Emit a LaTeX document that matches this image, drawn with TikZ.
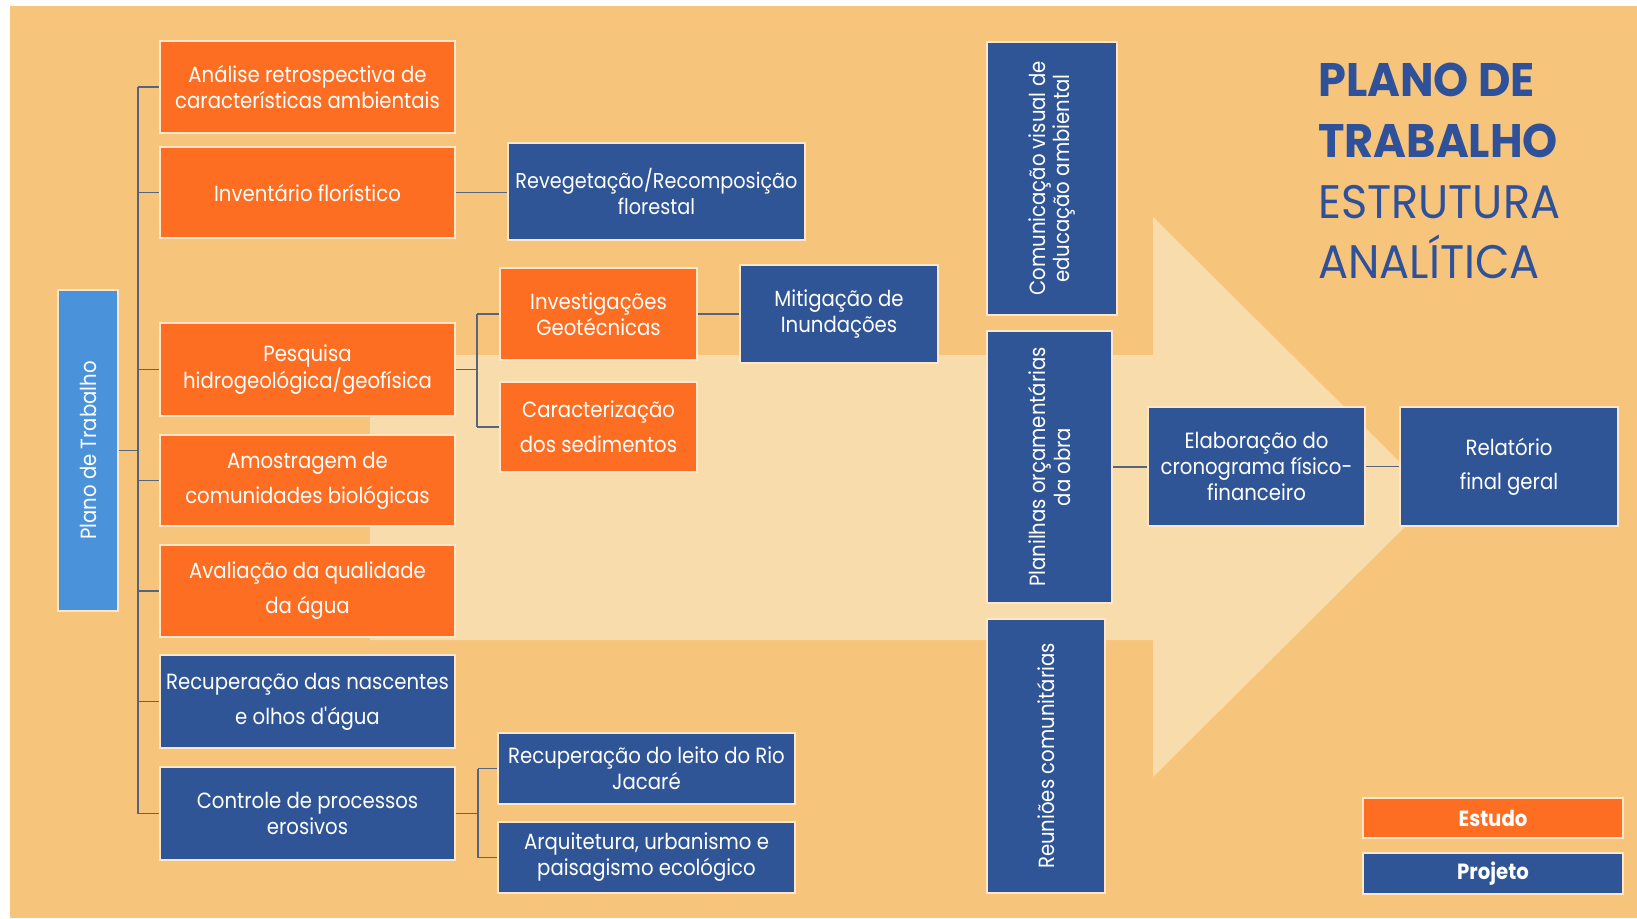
\documentclass[tikz,border=0pt]{standalone}
\usepackage{fontspec}
\setmainfont{Poppins}
\newfontfamily\boxfont{Poppins}[FakeStretch=0.895]
\newfontfamily\titlefont{Poppins}[FakeStretch=0.95]
\definecolor{bgc}{HTML}{F6C47A}
\definecolor{lightc}{HTML}{F8DCAC}
\definecolor{orng}{HTML}{FD6E22}
\definecolor{dblue}{HTML}{2F5597}
\definecolor{lblue}{HTML}{4A92DA}
\definecolor{connc}{HTML}{56657C}
\definecolor{tblue}{HTML}{2F519A}
\definecolor{boxline}{HTML}{FDE6CA}
\tikzset{
  bx/.style={rectangle, inner sep=0pt, align=center, text=white,
    font={\boxfont\fontsize{22}{26}\selectfont}, draw=boxline, line width=1.3pt},
  ob/.style={bx, fill=orng},
  bb/.style={bx, fill=dblue},
  conn/.style={draw=connc, line width=1.8pt},
}
\begin{document}
\begin{tikzpicture}[x=1pt,y=-1pt]
\useasboundingbox (0,0) rectangle (1637,918);
\fill[white] (0,0) rectangle (1637,918);
\fill[bgc] (10,6) rectangle (1637,918);
% big light arrow
\fill[lightc] (370,355) -- (1153,355) -- (1153,217) -- (1435,497) -- (1153,777) -- (1153,640) -- (370,640) -- cycle;

% connectors
\coordinate (tk) at (138,0);
\coordinate (bp) at (477,0);
\coordinate (bc) at (478,0);

% root
\node[bx, fill=lblue, rotate=90, minimum width=321pt, minimum height=60pt] (plano) at (88,450.5) {Plano de Trabalho};

% first level
\node[ob, minimum width=295pt, minimum height=92pt] (A1) at (307.5,87) {Análise retrospectiva de\\características ambientais};
\node[ob, minimum width=295pt, minimum height=91pt] (A2) at (307.5,192.5) {Inventário florístico};
\node[ob, minimum width=295pt, minimum height=93pt] (A3) at (307.5,369.5) {Pesquisa\\hidrogeológica/geofísica};
\node[ob, minimum width=295pt, minimum height=91pt] (A4) at (307.5,480.5) {Amostragem de\\[9pt]comunidades biológicas};
\node[ob, minimum width=295pt, minimum height=92pt] (A5) at (307.5,591) {Avaliação da qualidade\\[9pt]da água};
\node[bb, minimum width=295pt, minimum height=93pt] (A6) at (307.5,701.5) {Recuperação das nascentes\\[9pt]e olhos d'água};
\node[bb, minimum width=295pt, minimum height=93pt] (A7) at (307.5,813.5) {Controle de processos\\erosivos};

% second level
\node[bb, minimum width=297pt, minimum height=97pt, font={\boxfont\fontsize{21.5}{26}\selectfont}] (reveg) at (656.5,191.5) {Revegetação/Recomposição\\florestal};
\node[ob, minimum width=197pt, minimum height=92pt] (inv) at (598.5,314) {Investigações\\Geotécnicas};
\node[ob, minimum width=197pt, minimum height=90pt] (car) at (598.5,427) {Caracterização\\[9pt]dos sedimentos};
\node[bb, minimum width=198pt, minimum height=98pt] (mit) at (839,314) {Mitigação de\\Inundações};
\node[bb, minimum width=297pt, minimum height=71pt] (leito) at (646.5,768.5) {Recuperação do leito do Rio\\Jacaré};
\node[bb, minimum width=297pt, minimum height=71pt] (arq) at (646.5,857.5) {Arquitetura, urbanismo e\\paisagismo ecológico};

% vertical column
\node[bb, rotate=90, minimum width=273pt, minimum height=130pt, font={\boxfont\fontsize{22}{24}\selectfont}] (com) at (1052,178.5) {Comunicação visual de\\educação ambiental};
\node[bb, rotate=90, minimum width=272pt, minimum height=125pt, font={\boxfont\fontsize{22}{25}\selectfont}] (plan) at (1049.5,467) {Planilhas orçamentárias\\da obra};
\node[bb, rotate=90, minimum width=274pt, minimum height=118pt] (reu) at (1046,756) {Reuniões comunitárias};

% right
\node[bb, minimum width=217pt, minimum height=119pt] (elab) at (1256.5,466.5) {Elaboração do\\cronograma físico-\\financeiro};
\node[bb, minimum width=218pt, minimum height=119pt] (rel) at (1509,466.5) {Relatório\\[8pt]final geral};

% legend
\node[ob, minimum width=260pt, minimum height=40pt, font={\boxfont\bfseries\fontsize{22}{24}\selectfont}] (est) at (1493,818) {Estudo};
\node[bb, minimum width=260pt, minimum height=41pt, font={\boxfont\bfseries\fontsize{22}{24}\selectfont}] (proj) at (1493,873.5) {Projeto};

% title
\node[anchor=base west, inner sep=0pt, text=tblue, font={\titlefont\bfseries\fontsize{47}{50}\selectfont}] (t1) at (1318,96) {PLANO DE};
\node[anchor=base west, inner sep=0pt, text=tblue, font={\titlefont\bfseries\fontsize{47}{50}\selectfont}] (t2) at (1318,157) {TRABALHO};
\node[anchor=base west, inner sep=0pt, text=tblue, font={\titlefont\fontsize{47}{50}\selectfont}] (t3) at (1318,218) {ESTRUTURA};
\node[anchor=base west, inner sep=0pt, text=tblue, font={\titlefont\fontsize{47}{50}\selectfont}] (t4) at (1318,278) {ANALÍTICA};

\draw[conn] (plano.south) -- (tk |- plano.south);
\draw[conn] (tk |- A1.west) -- (tk |- A7.west);
\foreach \n in {A1,A2,A3,A4,A5,A6,A7}{
  \draw[conn] (tk |- \n.west) -- (\n.west);
}
\draw[conn] (A2.east) -- (reveg.west |- A2.east);
\draw[conn] (A3.east) -- (bp |- A3.east);
\draw[conn] (bp |- inv.west) -- (bp |- car.west);
\draw[conn] (bp |- inv.west) -- (inv.west);
\draw[conn] (bp |- car.west) -- (car.west);
\draw[conn] (inv.east) -- (mit.west |- inv.east);
\draw[conn] (A7.east) -- (bc |- A7.east);
\draw[conn] (bc |- leito.west) -- (bc |- arq.west);
\draw[conn] (bc |- leito.west) -- (leito.west);
\draw[conn] (bc |- arq.west) -- (arq.west);
\draw[conn] (plan.south) -- (elab.west |- plan.south);
\draw[conn] (elab.east) -- (rel.west |- elab.east);
\end{tikzpicture}
\end{document}
